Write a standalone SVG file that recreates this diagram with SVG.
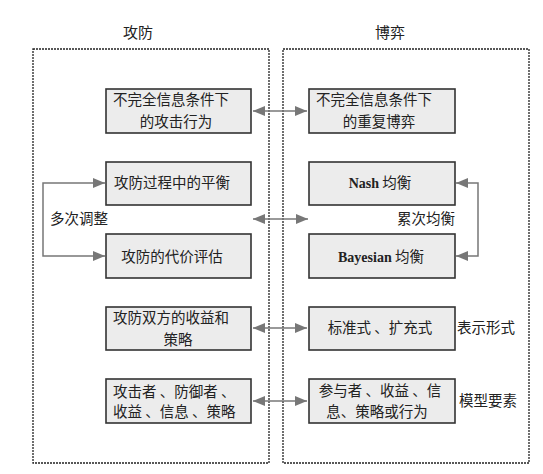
<svg xmlns="http://www.w3.org/2000/svg" width="543" height="474" viewBox="0 0 543 474">
<defs>
<style>
.frame{fill:none;stroke:#222;stroke-width:1.3;stroke-dasharray:2,1}
.box{fill:#ececec;stroke:#333;stroke-width:1.6}
.t{font-family:"Noto Sans CJK SC","Liberation Serif",serif;font-size:14.5px;fill:#222}
.m{text-anchor:middle}
.lat{font-family:"Liberation Serif","Noto Sans CJK SC",serif;font-weight:bold;font-size:14px}
.c{fill:none;stroke:#777;stroke-width:1.5}
.ttl{font-family:"Noto Sans CJK SC",sans-serif;font-size:15px;fill:#222;text-anchor:middle}
</style>
<marker id="ah" viewBox="0 0 12 10" refX="12" refY="5" markerWidth="12" markerHeight="10" markerUnits="userSpaceOnUse" orient="auto-start-reverse">
<path d="M0,0 L12,5 L0,10 Z" fill="#777"/>
</marker>
</defs>
<g id="frame-left"><text class="ttl" x="138" y="38">攻防</text><rect class="frame" x="33" y="49" width="236" height="414"/></g>
<g id="frame-right"><text class="ttl" x="390" y="38">博弈</text><rect class="frame" x="283" y="49" width="246" height="414"/></g>

<g id="connectors">
<line class="c" x1="253" y1="111" x2="307" y2="111" marker-start="url(#ah)" marker-end="url(#ah)"/>
<line class="c" x1="253" y1="219" x2="308" y2="219" marker-start="url(#ah)" marker-end="url(#ah)"/>
<line class="c" x1="253" y1="328" x2="307" y2="328" marker-start="url(#ah)" marker-end="url(#ah)"/>
<line class="c" x1="253" y1="401" x2="307" y2="401" marker-start="url(#ah)" marker-end="url(#ah)"/>
<path class="c" d="M105,183 H43 V256 H105" marker-start="url(#ah)" marker-end="url(#ah)"/>
<path class="c" d="M456,183 H478 V256 H456" marker-start="url(#ah)" marker-end="url(#ah)"/>
<text class="t" x="50" y="224">多次调整</text>
<text class="t" x="397" y="224">累次均衡</text>
<text class="t" x="457" y="333">表示形式</text>
<text class="t" x="459" y="406">模型要素</text>
</g>

<g id="n1"><rect class="box" x="106" y="89" width="145" height="44"/><text class="t" x="113" y="105">不完全信息条件下</text><text class="t m" x="176" y="127">的攻击行为</text></g>
<g id="n2"><rect class="box" x="106" y="162" width="145" height="43"/><text class="t m" x="172" y="188">攻防过程中的平衡</text></g>
<g id="n3"><rect class="box" x="106" y="234" width="145" height="44"/><text class="t m" x="172" y="262">攻防的代价评估</text></g>
<g id="n4"><rect class="box" x="106" y="307" width="145" height="43"/><text class="t" x="113" y="323">攻防双方的收益和</text><text class="t m" x="178" y="345">策略</text></g>
<g id="n5"><rect class="box" x="106" y="379" width="145" height="44"/><text class="t" x="113" y="397">攻击者 、防御者 、</text><text class="t" x="113" y="417">收益 、信息 、策略</text></g>

<g id="m1"><rect class="box" x="309" y="89" width="146" height="44"/><text class="t" x="316" y="105">不完全信息条件下</text><text class="t m" x="379" y="127">的重复博弈</text></g>
<g id="m2"><rect class="box" x="309" y="162" width="146" height="43"/><text class="t m" x="380" y="188"><tspan class="lat">Nash</tspan> 均衡</text></g>
<g id="m3"><rect class="box" x="309" y="234" width="146" height="44"/><text class="t m" x="381" y="262"><tspan class="lat">Bayesian</tspan>  均衡</text></g>
<g id="m4"><rect class="box" x="309" y="307" width="146" height="43"/><text class="t m" x="380" y="333">标准式 、扩充式</text></g>
<g id="m5"><rect class="box" x="309" y="379" width="146" height="44"/><text class="t m" x="380" y="396">参与者 、收益 、信</text><text class="t m" x="377" y="417">息、策略或行为</text></g>
</svg>
